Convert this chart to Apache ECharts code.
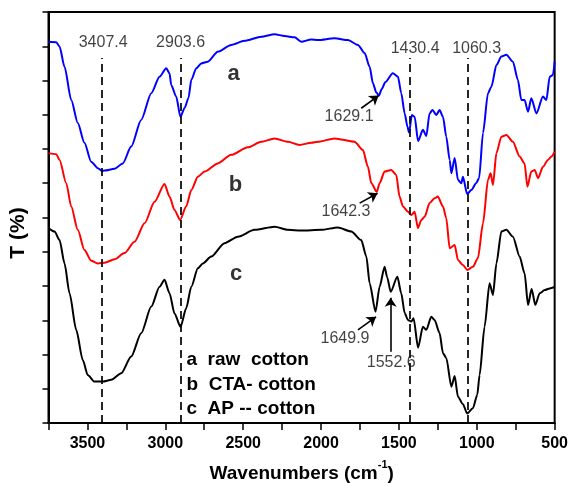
<!DOCTYPE html>
<html><head><meta charset="utf-8">
<script src="https://cdn.jsdelivr.net/npm/echarts@6/dist/echarts.min.js"></script>
<style>html,body{margin:0;padding:0;background:#fff}#c{width:571px;height:483px}</style>
</head><body><div id="c"></div>
<script>
// Wavenumber (cm-1), transmittance (arbitrary, offset) pairs
const curveA = [[3750,111.3],[3700,111.2],[3679,109.9],[3647,104.0],[3604,94.3],[3562,87.6],[3519,81.8],[3476,76.3],[3433,74.4],[3407,73.6],[3390,73.7],[3326,74.2],[3273,75.8],[3219,80.7],[3155,88.5],[3090,96.3],[3037,101.1],[2994,103.6],[2973,102.1],[2962,98.7],[2930,95.3],[2903,89.4],[2876,92.0],[2851,94.9],[2833,100.2],[2801,103.6],[2769,105.0],[2727,105.5],[2663,108.4],[2577,110.4],[2491,111.6],[2384,112.8],[2298,113.5],[2234,113.0],[2170,112.6],[2127,111.3],[2063,112.0],[2020,111.8],[1913,112.3],[1828,111.8],[1763,110.4],[1720,108.0],[1688,104.0],[1667,99.2],[1645,96.5],[1629,95.6],[1610,97.5],[1588,99.5],[1539,102.1],[1506,101.1],[1485,96.3],[1463,90.4],[1445,86.5],[1435,84.8],[1417,89.9],[1399,89.4],[1377,82.3],[1346,85.6],[1324,83.8],[1303,90.4],[1284,91.4],[1260,89.9],[1239,91.4],[1217,89.4],[1196,83.6],[1174,76.8],[1163,72.9],[1142,77.4],[1121,71.0],[1099,70.0],[1089,71.9],[1062,66.9],[1035,68.0],[1003,70.1],[985,71.5],[960,84.7],[928,96.3],[906,98.2],[874,104.5],[842,107.0],[810,107.5],[768,105.5],[736,100.2],[714,94.3],[693,94.3],[671,90.9],[650,94.8],[617,90.4],[575,95.3],[553,94.3],[532,101.1],[511,101.6],[500,105.5]];
const curveB = [[3750,78.8],[3700,78.5],[3679,76.8],[3636,70.0],[3604,63.2],[3562,56.4],[3519,50.5],[3476,47.4],[3433,46.6],[3390,46.8],[3326,47.8],[3262,49.6],[3198,52.9],[3133,58.3],[3069,64.6],[3005,69.8],[2973,66.1],[2941,62.2],[2905,59.3],[2866,63.2],[2833,68.0],[2791,71.9],[2748,73.4],[2663,75.8],[2577,78.3],[2470,80.5],[2384,82.1],[2298,83.1],[2213,82.1],[2138,81.2],[2063,81.8],[2020,82.1],[1913,83.1],[1785,82.1],[1731,79.7],[1699,74.8],[1677,70.0],[1642,67.5],[1624,70.0],[1592,73.4],[1549,73.9],[1517,72.4],[1496,66.1],[1474,63.2],[1442,61.7],[1420,60.7],[1399,61.7],[1378,56.9],[1356,59.3],[1335,60.2],[1303,64.2],[1271,65.6],[1250,66.1],[1217,63.2],[1196,59.8],[1174,51.0],[1142,52.0],[1121,47.6],[1089,46.1],[1061,44.7],[1025,45.6],[993,48.1],[960,58.3],[928,71.0],[911,72.9],[896,69.5],[874,78.8],[842,83.6],[810,84.1],[768,82.1],[725,77.8],[693,75.8],[675,69.0],[650,73.4],[628,73.9],[607,71.5],[575,74.8],[543,76.8],[521,77.8],[500,79.2]];
const curveC = [[3750,56.9],[3711,55.9],[3679,53.4],[3647,46.6],[3615,37.9],[3572,27.2],[3530,18.4],[3498,14.0],[3455,12.1],[3401,12.1],[3347,12.6],[3283,14.5],[3219,19.4],[3155,26.2],[3090,34.0],[3037,39.8],[3005,41.8],[2973,37.9],[2941,32.0],[2902,28.1],[2866,33.5],[2833,39.8],[2791,45.2],[2759,46.6],[2705,48.6],[2620,52.5],[2534,54.4],[2427,56.4],[2298,57.3],[2213,56.4],[2127,56.2],[1998,56.4],[1892,57.1],[1806,55.9],[1742,53.4],[1709,48.6],[1688,40.8],[1650,32.5],[1624,39.8],[1592,45.6],[1575,42.5],[1553,38.3],[1510,42.7],[1485,37.9],[1463,32.1],[1442,30.1],[1420,29.6],[1406,30.6],[1377,22.0],[1346,28.1],[1324,27.2],[1292,31.0],[1271,30.1],[1239,26.3],[1217,20.4],[1196,19.0],[1163,10.6],[1142,13.7],[1121,7.7],[1089,5.5],[1062,2.8],[1025,4.3],[997,8.2],[982,14.0],[950,28.1],[918,40.8],[896,37.4],[874,46.6],[842,55.9],[810,56.4],[768,54.4],[725,48.6],[693,43.7],[671,34.5],[648,39.1],[624,34.5],[596,37.9],[564,38.8],[532,39.3],[500,39.7]];

const xTickLabels = [3500, 3000, 2500, 2000, 1500, 1000, 500];
const refLines = [3407.4, 2903.6, 1430.4, 1060.3];
const refLineTop = 106.6;
const refLabels = [
  {text: '3407.4', at: [3399, 111.0]},
  {text: '2903.6', at: [2902, 111.0]},
  {text: '1430.4', at: [1396, 109.3]},
  {text: '1060.3', at: [1001, 109.3]}
];
const peakLabels = [
  {text: '1629.1', at: [1820, 89.4]},
  {text: '1642.3', at: [1840, 61.6]},
  {text: '1649.9', at: [1846, 24.5]},
  {text: '1552.6', at: [1549, 17.7]}
];
const arrows = [
  {from: [1742, 91.9], to: [1630, 95.6]},
  {from: [1752, 64.2], to: [1637, 67.1]},
  {from: [1763, 27.2], to: [1647, 31.0]},
  {from: [1553, 20.8], to: [1553, 36.6]}
];
const curveLabels = [
  {text: 'a', at: [2562, 101.9]},
  {text: 'b', at: [2549, 69.5]},
  {text: 'c', at: [2546, 43.5]}
];
const legendLines = ['a  raw  cotton', 'b  CTA- cotton', 'c  AP -- cotton'];

const chart = echarts.init(document.getElementById('c'), null, {renderer: 'canvas'});
const FONT = 'Arial, "Liberation Sans", sans-serif';

function textData(list, style) {
  return list.map(t => ({value: t.at, name: t.text, label: style}));
}

const lineSeries = (data, color) => ({
  type: 'line', data: data, showSymbol: false, symbol: 'none',
  smooth: 0.25, smoothMonotone: 'x',
  lineStyle: {color: color, width: 2}, silent: true, z: 3
});

chart.setOption({
  animation: false,
  backgroundColor: '#fff',
  grid: {left: 48.5, right: 16, top: 12, bottom: 60, show: true, borderColor: '#000', borderWidth: 2, backgroundColor: 'transparent'},
  xAxis: {
    type: 'value', min: 500, max: 3750, interval: 250, inverse: true,
    axisLine: {show: true, lineStyle: {color: '#000', width: 2}},
    axisTick: {show: true, length: 7, lineStyle: {color: '#000', width: 1.5}},
    axisLabel: {
      margin: 13, color: '#000', fontSize: 16, fontWeight: 'bold', fontFamily: FONT,
      formatter: v => xTickLabels.indexOf(v) >= 0 ? String(v) : ''
    },
    splitLine: {show: false}
  },
  yAxis: {
    type: 'value', min: 0, max: 120, interval: 10,
    axisLine: {show: true, lineStyle: {color: '#000', width: 2}},
    axisTick: {show: true, length: 6, lineStyle: {color: '#000', width: 1.5}},
    axisLabel: {show: false},
    splitLine: {show: false}
  },
  graphic: [
    {type: 'text', x: 18, y: 233, rotation: Math.PI / 2,
      style: {text: 'T (%)', fill: '#000', font: 'bold 21px ' + FONT, textAlign: 'center', textVerticalAlign: 'middle'}},
    {type: 'text', x: 301.7, y: 471,
      style: {text: '{m|Wavenumbers (cm}{s|-1}{m|)}', fill: '#000', textAlign: 'center', textVerticalAlign: 'middle',
        rich: {m: {fontSize: 19, fontWeight: 'bold', fontFamily: FONT, lineHeight: 24, verticalAlign: 'bottom'},
               s: {fontSize: 11, fontWeight: 'bold', fontFamily: FONT, lineHeight: 24, verticalAlign: 'top'}}}},
    ...legendLines.map((t, i) => ({type: 'text', x: 186.5, y: 360 + i * 24.5,
      style: {text: t, fill: '#000', font: 'bold 19px ' + FONT, textAlign: 'left', textVerticalAlign: 'middle'}}))
  ],
  series: [
    lineSeries(curveA, '#0000ff'),
    lineSeries(curveB, '#ff0000'),
    lineSeries(curveC, '#000000'),
    {
      type: 'line', data: [], silent: true, z: 2,
      markLine: {
        silent: true, symbol: ['none', 'none'], label: {show: false}, emphasis: {disabled: true},
        lineStyle: {color: '#000', width: 1.7, type: [8, 5]},
        data: refLines.map(x => [{coord: [x, 0]}, {coord: [x, refLineTop]}])
      }
    },
    {
      type: 'line', data: [], silent: true, z: 4,
      markLine: {
        silent: true, symbol: ['none', 'arrow'], symbolSize: 9, label: {show: false}, emphasis: {disabled: true},
        lineStyle: {color: '#000', width: 1.6, type: 'solid'},
        data: arrows.map(a => [{coord: a.from}, {coord: a.to}])
      }
    },
    {
      type: 'scatter', symbolSize: 1, silent: true, z: 5,
      itemStyle: {color: 'rgba(0,0,0,0)'},
      label: {show: true, position: 'inside', formatter: '{b}'},
      data: [
        ...textData(refLabels, {show: true, position: 'inside', formatter: '{b}', color: '#111', fontSize: 16, fontFamily: FONT}),
        ...textData(peakLabels, {show: true, position: 'inside', formatter: '{b}', color: '#111', fontSize: 16, fontFamily: FONT}),
        ...textData(curveLabels, {show: true, position: 'inside', formatter: '{b}', color: '#000', fontSize: 22, fontWeight: 'bold', fontFamily: FONT})
      ]
    }
  ]
});
</script></body></html>
